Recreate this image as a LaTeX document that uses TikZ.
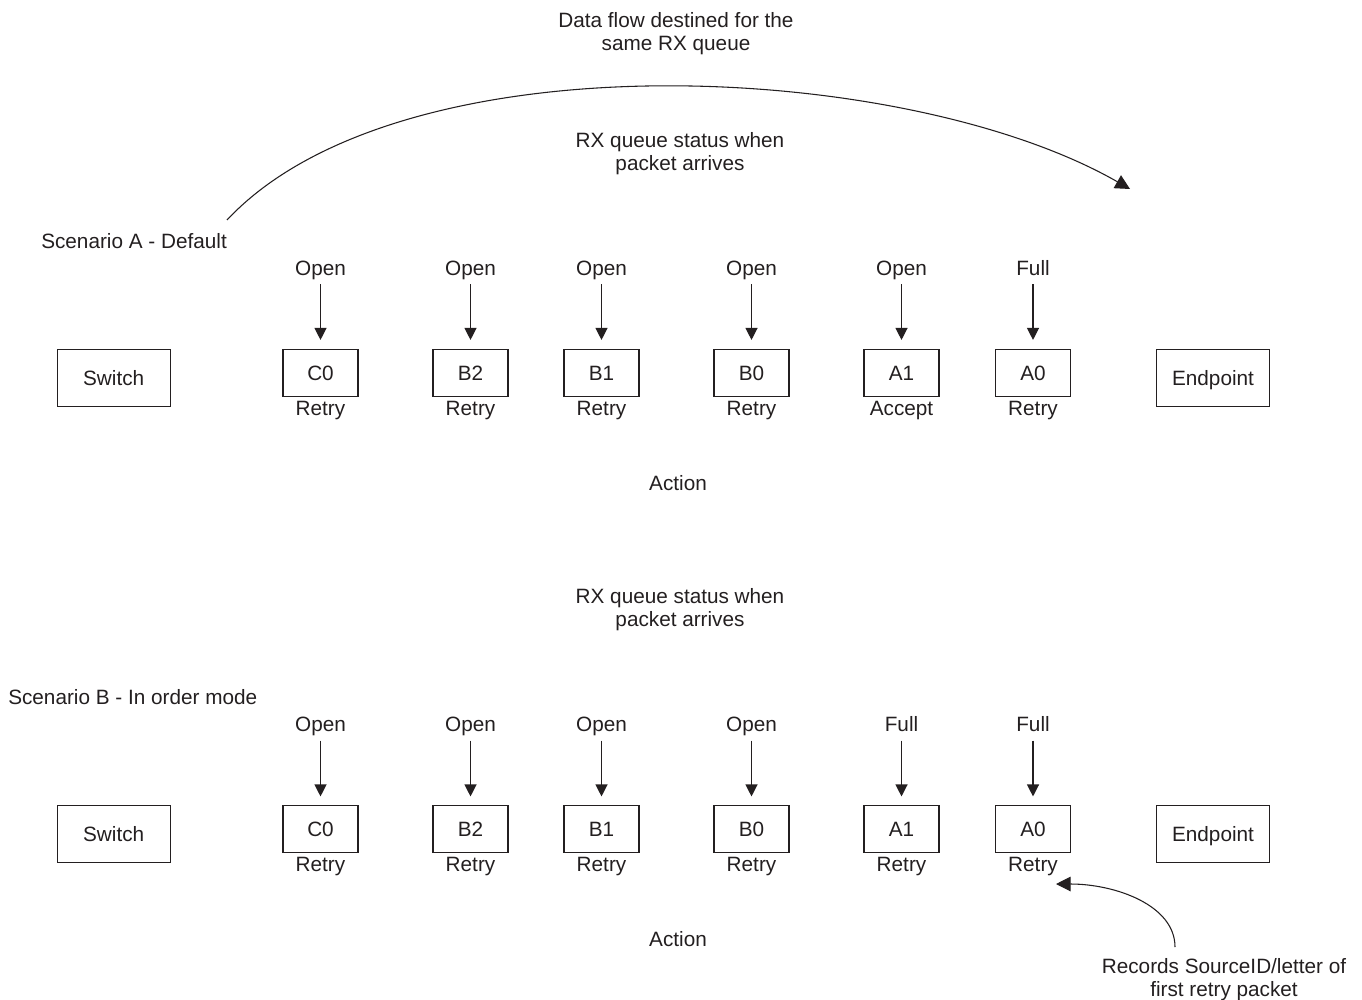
\documentclass[tikz,border=0pt]{standalone}
\usepackage{fontspec}
\setmainfont{Liberation Sans}
\usetikzlibrary{arrows.meta}
\definecolor{ink}{HTML}{231F20}
\begin{document}
\begin{tikzpicture}[x=0.75pt,y=-0.75pt,
  font=\fontsize{15.55}{17.25}\selectfont,
  every node/.style={text=ink},
  txt/.style={inner sep=0pt, align=center},
  lbl/.style={inner sep=0pt, text height=11pt, text depth=3.2pt, anchor=base},
  smallbox/.style={draw=ink, line width=0.9pt, inner sep=0pt, minimum width=56.25pt, minimum height=35.25pt, text height=11pt, text depth=0pt},
  bigbox/.style={draw=ink, line width=0.9pt, inner sep=0pt, minimum width=84.75pt, minimum height=42.75pt, text height=11pt, text depth=0pt},
  arr/.style={draw=ink, line width=0.9pt, -{Triangle[length=9pt,width=9pt]}, shorten <=3.3pt, shorten >=6.5pt},
  curvearr/.style={draw=ink, line width=0.8pt, -{Triangle[length=11pt,width=11pt]}}
]
\useasboundingbox (0,0) rectangle (1362,999);

\node[txt] (title) at (676,33.5) {Data flow destined for the\\same RX queue};

% ---------- Scenario A ----------
\node[txt] (rxA) at (680,153.5) {RX queue status when\\packet arrives};
\node[lbl, anchor=base west] (scA) at (41,248.3) {Scenario A - Default};

\node[bigbox] (swA) at (113.7,377.7) {Switch};
\node[bigbox] (epA) at (1213,377.7) {Endpoint};

\node[smallbox] (bA1) at (320.5,372.7) {C0};
\node[smallbox] (bA2) at (470.5,372.7) {B2};
\node[smallbox] (bA3) at (601.5,372.7) {B1};
\node[smallbox] (bA4) at (751.5,372.7) {B0};
\node[smallbox] (bA5) at (901.5,372.7) {A1};
\node[smallbox] (bA6) at (1033,372.7) {A0};

\node[lbl] (oA1) at (320.5,275.3) {Open};
\node[lbl] (oA2) at (470.5,275.3) {Open};
\node[lbl] (oA3) at (601.5,275.3) {Open};
\node[lbl] (oA4) at (751.5,275.3) {Open};
\node[lbl] (oA5) at (901.5,275.3) {Open};
\node[lbl] (oA6) at (1033,275.3) {Full};

\node[lbl] (rA1) at (320.5,415.3) {Retry};
\node[lbl] (rA2) at (470.5,415.3) {Retry};
\node[lbl] (rA3) at (601.5,415.3) {Retry};
\node[lbl] (rA4) at (751.5,415.3) {Retry};
\node[lbl] (rA5) at (901.5,415.3) {Accept};
\node[lbl] (rA6) at (1033,415.3) {Retry};

\foreach \i in {1,...,6} { \draw[arr] (oA\i) -- (bA\i); }

\node[lbl] (actA) at (678,490.3) {Action};

\coordinate (cs) at (227,220);
\coordinate (ce) at (1130,189);
\draw[curvearr] (cs) .. controls (400,35) and (905,60) .. (ce);

% ---------- Scenario B ----------
\node[txt] (rxB) at (680,610) {RX queue status when\\packet arrives};
\node[lbl, anchor=base west] (scB) at (8,704.3) {Scenario B - In order mode};

\node[bigbox] (swB) at (113.7,834.2) {Switch};
\node[bigbox] (epB) at (1213,834.2) {Endpoint};

\node[smallbox] (bB1) at (320.5,829.2) {C0};
\node[smallbox] (bB2) at (470.5,829.2) {B2};
\node[smallbox] (bB3) at (601.5,829.2) {B1};
\node[smallbox] (bB4) at (751.5,829.2) {B0};
\node[smallbox] (bB5) at (901.5,829.2) {A1};
\node[smallbox] (bB6) at (1033,829.2) {A0};

\node[lbl] (oB1) at (320.5,731.8) {Open};
\node[lbl] (oB2) at (470.5,731.8) {Open};
\node[lbl] (oB3) at (601.5,731.8) {Open};
\node[lbl] (oB4) at (751.5,731.8) {Open};
\node[lbl] (oB5) at (901.5,731.8) {Full};
\node[lbl] (oB6) at (1033,731.8) {Full};

\node[lbl] (rB1) at (320.5,871.8) {Retry};
\node[lbl] (rB2) at (470.5,871.8) {Retry};
\node[lbl] (rB3) at (601.5,871.8) {Retry};
\node[lbl] (rB4) at (751.5,871.8) {Retry};
\node[lbl] (rB5) at (901.5,871.8) {Retry};
\node[lbl] (rB6) at (1033,871.8) {Retry};

\foreach \i in {1,...,6} { \draw[arr] (oB\i) -- (bB\i); }

\node[lbl] (actB) at (678,946.8) {Action};

\node[txt] (rec) at (1224,979.5) {Records SourceID/letter of\\first retry packet};
\coordinate (rs) at (1175,947);
\coordinate (re) at (1056,884);
\draw[curvearr] (rs) .. controls (1175,905) and (1115,884) .. (re);
\end{tikzpicture}
\end{document}
